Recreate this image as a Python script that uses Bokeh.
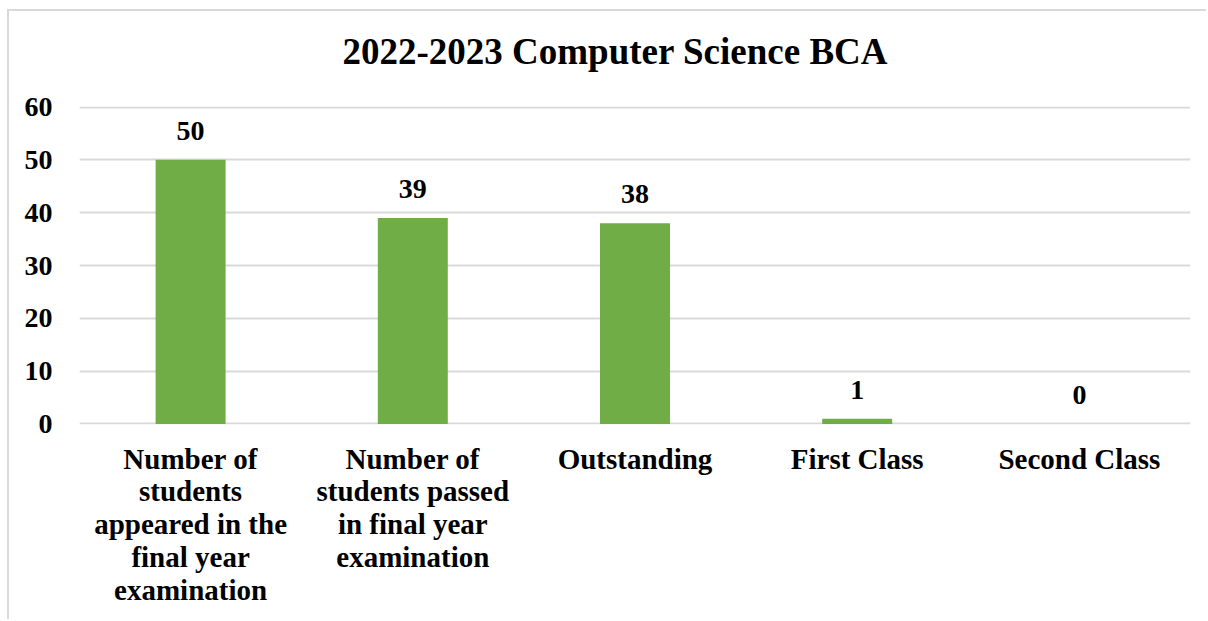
from bokeh.plotting import figure
from bokeh.models import ColumnDataSource, LabelSet, Range1d, FixedTicker
from bokeh.embed import file_html
from bokeh.resources import INLINE

title_text = "2022-2023 Computer Science BCA"
categories = [
    "Number of\nstudents\nappeared in the\nfinal year\nexamination",
    "Number of\nstudents passed\nin final year\nexamination",
    "Outstanding",
    "First Class",
    "Second Class",
]
values = [50, 39, 38, 1, 0]
y_ticks = [0, 10, 20, 30, 40, 50, 60]

FONT = "Liberation Serif"
GREEN = "#70AD47"
GRID = "#D9D9D9"

source = ColumnDataSource(data=dict(cat=categories, val=values, txt=[str(v) for v in values]))

p = figure(
    x_range=categories,
    y_range=Range1d(-0.1, 60.1),
    width=1206,
    height=626,
    output_backend="svg",
    toolbar_location=None,
    title=title_text,
    min_border_left=79,
    min_border_right=16,
    min_border_top=0,
    min_border_bottom=195,
)
p.border_fill_alpha = 0
p.styles = {
    "margin-top": "-7px",
    "background": "linear-gradient(#D9D9D9, #D9D9D9) 7px 16px / 100% 2px no-repeat, "
                  "linear-gradient(#D9D9D9, #D9D9D9) 7px 16px / 2px 100% no-repeat, #FFFFFF",
}

p.title.text_font = FONT
p.title.text_font_size = "37px"
p.title.text_font_style = "bold"
p.title.align = "left"
p.title.text_color = "black"
p.title.offset = 263
p.title.standoff = 70

p.vbar(x="cat", top="val", width=0.315, source=source, fill_color=GREEN, line_color=None)

labels = LabelSet(x="cat", y="val", text="txt", source=source, text_align="center",
                  text_baseline="bottom", y_offset=20, text_font=FONT,
                  text_font_size="28px", text_font_style="bold", text_color="black")
p.add_layout(labels)

p.yaxis.ticker = FixedTicker(ticks=y_ticks)
p.yaxis.axis_line_color = None
p.yaxis.major_tick_line_color = None
p.yaxis.minor_tick_line_color = None
p.yaxis.major_label_text_font = FONT
p.yaxis.major_label_text_font_size = "28px"
p.yaxis.major_label_text_font_style = "bold"
p.yaxis.major_label_text_color = "black"
p.yaxis.major_label_standoff = 21

p.xaxis.axis_line_color = None
p.xaxis.major_tick_line_color = None
p.xaxis.minor_tick_line_color = None
p.xaxis.major_label_text_font = FONT
p.xaxis.major_label_text_font_size = "29px"
p.xaxis.major_label_text_font_style = "bold"
p.xaxis.major_label_text_color = "black"
p.xaxis.major_label_text_line_height = 1.03
p.xaxis.major_label_standoff = 12

p.xgrid.grid_line_color = None
p.ygrid.grid_line_color = GRID
p.ygrid.grid_line_width = 2
p.ygrid.ticker = FixedTicker(ticks=y_ticks)
p.outline_line_color = None
p.x_range.range_padding = 0

open("out.html", "w").write(file_html(p, INLINE))
